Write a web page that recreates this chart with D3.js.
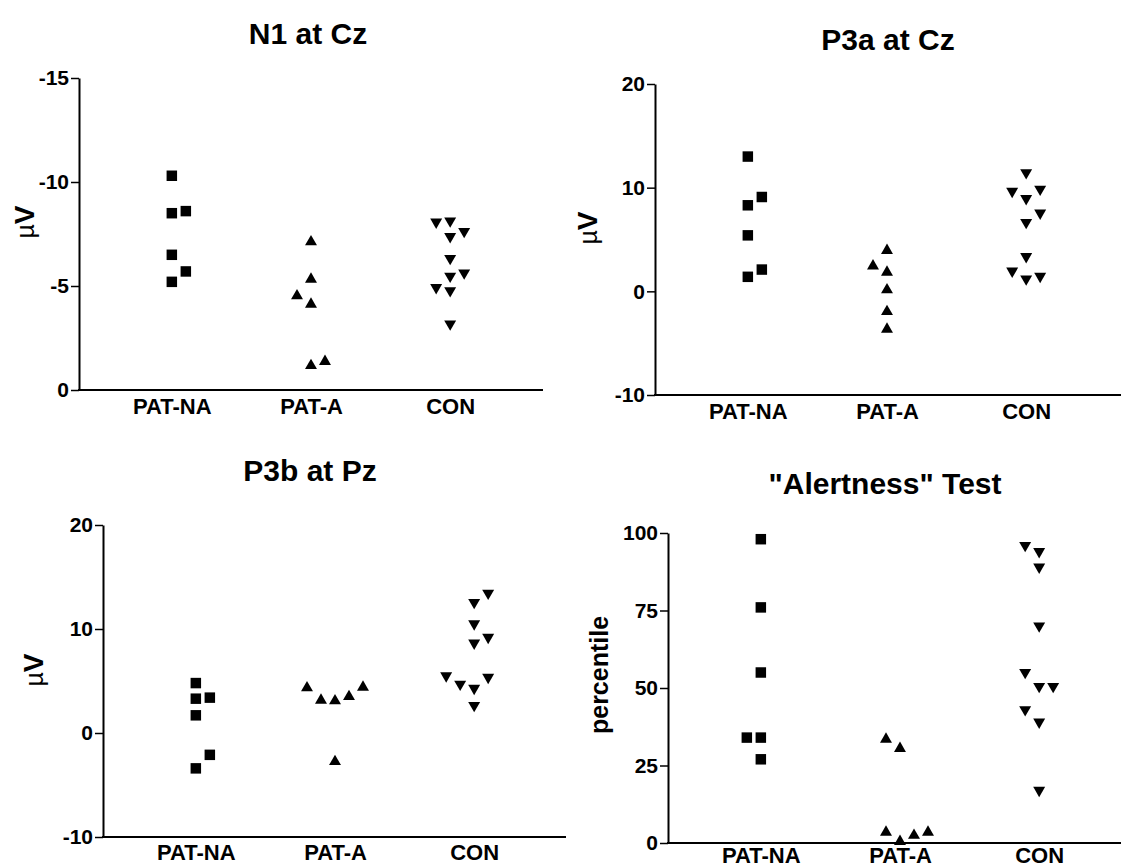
<!DOCTYPE html>
<html lang="en">
  <head>
    <meta charset="utf-8" />
    <title>ERP components and alertness by group</title>
    <script src="https://cdn.jsdelivr.net/npm/d3@7"></script>
    <style>
      body {
        margin: 0;
        background: #fff;
      }
      text {
        font-family: "Liberation Sans", Arial, Helvetica, sans-serif;
        font-weight: bold;
        fill: #000;
      }
    </style>
  </head>
  <body>
    <svg id="chart" width="1121" height="868"></svg>
    <script>
      var groups = ["PAT-NA", "PAT-A", "CON"];

      // N1 at Cz, microvolts (axis runs negative upwards)
      var n1Ticks = [0, -5, -10, -15];
      var n1PatNA = [-10.3, -8.5, -8.6, -6.5, -5.7, -5.2];
      var n1PatA = [-7.2, -5.4, -4.6, -4.2, -1.25, -1.45];
      var n1Con = [-8.0, -8.05, -7.3, -7.55, -6.25, -5.4, -5.55, -4.85, -4.7, -3.1];

      // P3a at Cz, microvolts
      var p3aTicks = [-10, 0, 10, 20];
      var p3aPatNA = [13.0, 8.3, 9.1, 5.4, 1.4, 2.1];
      var p3aPatA = [4.1, 2.6, 2.0, 0.3, -1.8, -3.5];
      var p3aCon = [11.3, 9.5, 9.7, 8.8, 7.4, 6.5, 3.2, 1.8, 1.05, 1.3];

      // P3b at Pz, microvolts
      var p3bTicks = [-10, 0, 10, 20];
      var p3bPatNA = [4.8, 3.3, 3.4, 1.7, -2.1, -3.4];
      var p3bPatA = [4.5, 3.3, 3.25, 3.65, 4.55, -2.6];
      var p3bCon = [13.3, 12.4, 10.35, 9.05, 8.5, 5.35, 5.2, 4.55, 4.15, 2.5];

      // "Alertness" test, percentile
      var alertTicks = [0, 25, 50, 75, 100];
      var alertPatNA = [98, 76, 55, 34, 34, 27];
      var alertPatA = [34, 31, 4, 1, 3, 4];
      var alertCon = [95.5, 93.5, 88.5, 69.5, 54.5, 50, 50, 42.5, 38.5, 16.5];

      // side-by-side column of each point, as the scatter spreads near-ties
      var n1Cols = [[0, 0, 1, 0, 1, 0], [0, 0, -1, 0, 0, 1], [-1, 0, 0, 1, 0, 0, 1, -1, 0, 0]];
      var p3aCols = [[0, 0, 1, 0, 0, 1], [0, -1, 0, 0, 0, 0], [0, -1, 1, 0, 1, 0, 0, -1, 0, 1]];
      var p3bCols = [[0, 0, 1, 0, 1, 0], [-2, -1, 0, 1, 2, 0], [1, 0, 0, 1, 0, -2, 1, -1, 0, 0]];
      var alertCols = [[0, 0, 0, -1, 0, 0], [-1, 0, -1, 0, 1, 2], [-1, 0, 0, 0, -1, 0, 1, -1, 0, 0]];

      var panels = [
        {
          title: "N1 at Cz", yLabel: "µV", ticks: n1Ticks,
          series: [n1PatNA, n1PatA, n1Con], cols: n1Cols,
          left: 79, right: 543, top: 78, bottom: 390, labelPad: 8,
          titleX: 308, titleY: 44, labelX: 28, labelY: 222
        },
        {
          title: "P3a at Cz", yLabel: "µV", ticks: p3aTicks,
          series: [p3aPatNA, p3aPatA, p3aCon], cols: p3aCols,
          left: 655, right: 1121, top: 84, bottom: 395, labelPad: 8,
          titleX: 888, titleY: 50, labelX: 591, labelY: 228
        },
        {
          title: "P3b at Pz", yLabel: "µV", ticks: p3bTicks,
          series: [p3bPatNA, p3bPatA, p3bCon], cols: p3bCols,
          left: 103, right: 566, top: 525, bottom: 837, labelPad: 7,
          titleX: 310, titleY: 481, labelX: 37, labelY: 670
        },
        {
          title: "\"Alertness\" Test", yLabel: "percentile", ticks: alertTicks,
          series: [alertPatNA, alertPatA, alertCon], cols: alertCols,
          left: 668, right: 1121, top: 533, bottom: 843, labelPad: 4,
          titleX: 885, titleY: 494, labelX: 599, labelY: 675
        }
      ];

      var svg = d3.select("#chart");
      var colStep = 14;
      var triUp = d3.symbol().type(d3.symbolTriangle).size(62);
      var square = d3.symbol().type(d3.symbolSquare).size(110);

      panels.forEach(function (p) {
        var g = svg.append("g");

        var y = d3
          .scaleLinear()
          .domain([p.ticks[0], p.ticks[p.ticks.length - 1]])
          .range([p.bottom, p.top]);
        var x = d3
          .scalePoint()
          .domain(groups)
          .range([p.left, p.left + 464])
          .padding(0.667);

        // title
        g.append("text")
          .attr("x", p.titleX)
          .attr("y", p.titleY)
          .attr("text-anchor", "middle")
          .style("font-size", "30px")
          .text(p.title);

        // y axis
        var yAxis = g
          .append("g")
          .attr("transform", "translate(" + p.left + ",0)")
          .call(
            d3
              .axisLeft(y)
              .tickValues(p.ticks)
              .tickSize(8)
              .tickSizeOuter(0)
              .tickPadding(2)
              .tickFormat(function (d) {
                return String(d);
              })
          )
          .attr("font-family", null)
          .attr("font-size", null);
        yAxis.select(".domain").attr("stroke-width", 2);
        yAxis.selectAll(".tick line").attr("stroke-width", 1.5);
        yAxis.selectAll(".tick text").style("font-size", "21px");

        // x axis line and group labels
        g.append("line")
          .attr("x1", p.left - 1)
          .attr("x2", p.right)
          .attr("y1", p.bottom)
          .attr("y2", p.bottom)
          .attr("stroke", "#000")
          .attr("stroke-width", 2);
        var xAxis = g
          .append("g")
          .attr("transform", "translate(0," + p.bottom + ")")
          .call(d3.axisBottom(x).tickSize(0).tickPadding(p.labelPad))
          .attr("font-family", null)
          .attr("font-size", null);
        xAxis.select(".domain").remove();
        xAxis.selectAll(".tick text").style("font-size", "22px");

        // y label
        var lab = g
          .append("text")
          .attr("transform", "translate(" + p.labelX + "," + p.labelY + ") rotate(-90)")
          .attr("text-anchor", "middle")
          .attr("dy", "0.35em");
        if (p.yLabel === "µV") {
          lab.append("tspan").style("font-weight", "normal").style("font-size", "25px").text("µ");
          lab.append("tspan").style("font-size", "28px").text("V");
        } else {
          lab.style("font-size", "25px").text(p.yLabel);
        }

        // points
        p.series.forEach(function (vals, gi) {
          g.selectAll(".pt" + gi)
            .data(vals)
            .enter()
            .append("path")
            .attr("fill", "#000")
            .attr("d", gi === 0 ? square() : triUp())
            .attr("transform", function (d, i) {
              var cx = x(groups[gi]) + p.cols[gi][i] * colStep;
              var cy = y(d);
              if (gi === 0) return "translate(" + cx + "," + cy + ")";
              if (gi === 1) return "translate(" + cx + "," + (cy + 1.6) + ")";
              return "translate(" + cx + "," + (cy - 1.6) + ") rotate(180)";
            });
        });
      });
    </script>
  </body>
</html>
